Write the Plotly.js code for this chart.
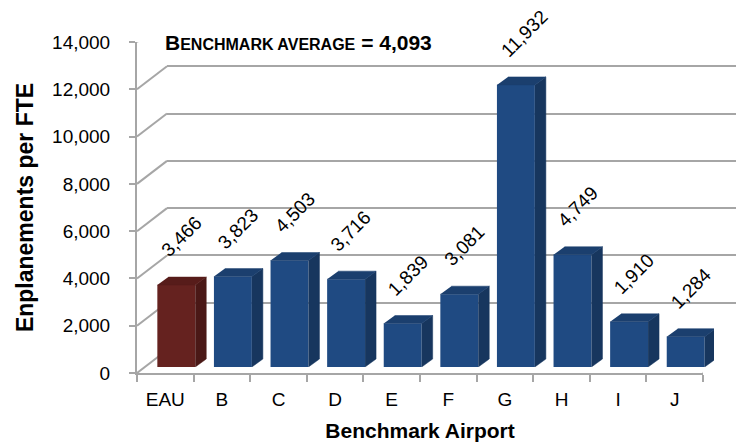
<!DOCTYPE html>
<html>
<head>
<meta charset="utf-8">
<script src="https://cdn.plot.ly/plotly-3.0.1.min.js"></script>
<style>html,body{margin:0;padding:0;background:#fff;}#chart{width:736px;height:443px;}</style>
</head>
<body>
<div id="chart"></div>
<script>
// ---- data ----
const categories = ['EAU', 'B', 'C', 'D', 'E', 'F', 'G', 'H', 'I', 'J'];
const values = [3466, 3823, 4503, 3716, 1839, 3081, 11932, 4749, 1910, 1284];
const yTickVals = [0, 2000, 4000, 6000, 8000, 10000, 12000, 14000];
const yTickText = ['0', '2,000', '4,000', '6,000', '8,000', '10,000', '12,000', '14,000'];
const benchmarkAverage = 4093;
const highlightCategory = 'EAU';

// ---- geometry / style ----
const W = 736, H = 443;
const mL = 137, mR = 0, mT = 17, mB = 70;
const plotW = W - mL - mR, plotH = H - mT - mB;
const frontW = 566, frontH = 331;
const backDX = 30, backDY = 23;
const barDX = 11, barDY = 6;
const faceDX = 11, faceDY = 8;
const barWidth = 0.67;
const yMax = 14000;
const nCat = categories.length;
const gridColor = '#A6A6A6';
const font = 'Arial, "Liberation Sans", sans-serif';

const colors = {
  blue: {front: '#1F4A82', side: '#17365E', top: '#1B3F6E'},
  red: {front: '#65221F', side: '#4A1816', top: '#571C1A'}
};

const dxData = faceDX / frontW * nCat;
const dyData = faceDY / frontH * yMax;
const xIdx = categories.map((c, i) => i);

function facePolys(which, kind) {
  const xs = [], ys = [];
  values.forEach((v, i) => {
    const isRed = categories[i] === highlightCategory;
    if ((which === 'red') !== isRed) return;
    const l = i - barWidth / 2, r = i + barWidth / 2;
    if (kind === 'side') {
      xs.push(r, r + dxData, r + dxData, r, null);
      ys.push(0, dyData, v + dyData, v, null);
    } else {
      xs.push(l, r, r + dxData, l + dxData, null);
      ys.push(v, v, v + dyData, v + dyData, null);
    }
  });
  return {x: xs, y: ys};
}

const traces = [];
// invisible helper traces so that the back-wall and front subplots exist
traces.push({x: [0], y: [0], xaxis: 'x2', yaxis: 'y2', type: 'scatter', mode: 'markers',
  marker: {opacity: 0}, hoverinfo: 'skip', showlegend: false});
traces.push({x: [0], y: [0], xaxis: 'x', yaxis: 'y', type: 'scatter', mode: 'markers',
  marker: {opacity: 0}, hoverinfo: 'skip', showlegend: false});

['blue', 'red'].forEach(which => {
  ['side', 'top'].forEach(kind => {
    const p = facePolys(which, kind);
    traces.push({x: p.x, y: p.y, xaxis: 'x3', yaxis: 'y3', type: 'scatter', mode: 'lines',
      fill: 'toself', fillcolor: colors[which][kind], line: {width: 0.5, color: colors[which][kind]},
      hoverinfo: 'skip', showlegend: false});
  });
});

traces.push({
  type: 'bar', x: xIdx, y: values, xaxis: 'x3', yaxis: 'y3', width: barWidth,
  marker: {color: categories.map(c => c === highlightCategory ? colors.red.front : colors.blue.front),
           line: {width: 0}},
  hoverinfo: 'skip', showlegend: false
});

const shapes = [];
yTickVals.forEach(v => {
  shapes.push({type: 'line', layer: 'below', xref: 'x', yref: 'y',
    xsizemode: 'pixel', xanchor: -0.5, x0: 0, x1: backDX,
    ysizemode: 'pixel', yanchor: v, y0: 0, y1: backDY,
    line: {color: gridColor, width: 2}});
});
shapes.push({type: 'line', layer: 'below', xref: 'x', yref: 'y',
  xsizemode: 'pixel', xanchor: nCat - 0.5, x0: 0, x1: backDX,
  ysizemode: 'pixel', yanchor: 0, y0: 0, y1: backDY,
  line: {color: gridColor, width: 2}});

const annotations = values.map((v, i) => ({
  xref: 'x3', yref: 'y3', x: i - barWidth / 2, y: v,
  text: v.toLocaleString('en-US'), showarrow: false, textangle: -45,
  xanchor: 'left', yanchor: 'bottom', xshift: -3, yshift: 21,
  font: {family: font, size: 19, color: '#000'}
}));
annotations.push({
  xref: 'paper', yref: 'paper', x: (163 - mL) / plotW, y: (H - mB - 42) / plotH,
  xanchor: 'left', yanchor: 'middle', showarrow: false,
  text: '<b>B<span style="font-size:16px">ENCHMARK AVERAGE</span> = ' + benchmarkAverage.toLocaleString('en-US') + '</b>',
  font: {family: font, size: 21, color: '#000'}
});

const layout = {
  width: W, height: H,
  margin: {l: mL, r: mR, t: mT, b: mB, pad: 0},
  paper_bgcolor: '#fff', plot_bgcolor: 'rgba(0,0,0,0)',
  showlegend: false,
  font: {family: font, color: '#000'},
  xaxis: {
    domain: [0, frontW / plotW], range: [-0.5, nCat - 0.5], anchor: 'y',
    tickmode: 'array', tickvals: xIdx, ticktext: categories, ticks: '',
    tickfont: {family: font, size: 19, color: '#000'}, ticklabelstandoff: 8,
    showline: true, linecolor: gridColor, linewidth: 2, showgrid: false, zeroline: false,
    minor: {tickmode: 'array', tickvals: Array.from({length: nCat + 1}, (_, i) => i - 0.5),
            ticks: 'outside', ticklen: 7, tickwidth: 2, tickcolor: gridColor, showgrid: false},
    title: {text: '<b>Benchmark Airport</b>', font: {family: font, size: 21, color: '#000'}, standoff: 15},
    fixedrange: true
  },
  yaxis: {
    domain: [0, frontH / plotH], range: [0, yMax], anchor: 'x',
    tickmode: 'array', tickvals: yTickVals, ticktext: yTickText,
    ticks: 'outside', ticklen: 6, tickwidth: 2, tickcolor: gridColor,
    tickfont: {family: font, size: 19, color: '#000'}, ticklabelstandoff: 15,
    showline: true, linecolor: gridColor, linewidth: 2, showgrid: false, zeroline: false,
    title: {text: '<b>Enplanements per FTE</b>', font: {family: font, size: 23, color: '#000'}, standoff: 12},
    fixedrange: true
  },
  xaxis2: {domain: [backDX / plotW, 1], range: [-0.5, nCat - 0.5], anchor: 'y2', visible: false, fixedrange: true},
  yaxis2: {
    domain: [backDY / plotH, (backDY + frontH) / plotH], range: [0, yMax], anchor: 'x2',
    tickmode: 'array', tickvals: yTickVals, showticklabels: false, ticks: '',
    showgrid: true, gridcolor: gridColor, gridwidth: 2, zeroline: false, showline: false, fixedrange: true
  },
  xaxis3: {domain: [barDX / plotW, (barDX + frontW) / plotW], range: [-0.5, nCat - 0.5], anchor: 'y3', visible: false, fixedrange: true},
  yaxis3: {domain: [barDY / plotH, (barDY + frontH) / plotH], range: [0, yMax], anchor: 'x3', visible: false, fixedrange: true},
  shapes: shapes,
  annotations: annotations
};

Plotly.newPlot('chart', traces, layout, {displayModeBar: false, staticPlot: true});
</script>
</body>
</html>
